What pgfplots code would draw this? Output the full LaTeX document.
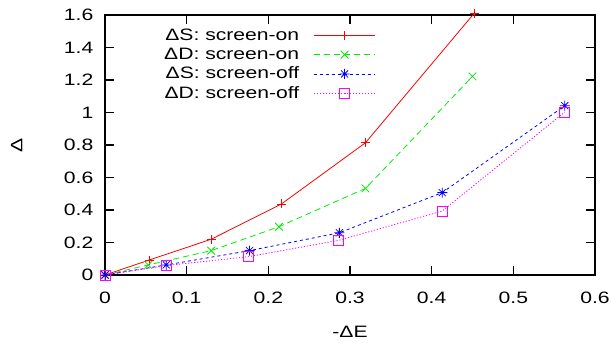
\documentclass[border=0pt]{standalone}
\usepackage{fontspec}
\setmainfont{Liberation Sans}[FakeStretch=1.28]
\usepackage{pgfplots}
\pgfplotsset{compat=1.18}
\pgfdeclareplotmark{gpstar}{%
  \pgfpathmoveto{\pgfqpoint{-\pgfplotmarksize}{0pt}}\pgfpathlineto{\pgfqpoint{\pgfplotmarksize}{0pt}}%
  \pgfpathmoveto{\pgfqpoint{0pt}{-\pgfplotmarksize}}\pgfpathlineto{\pgfqpoint{0pt}{\pgfplotmarksize}}%
  \pgfpathmoveto{\pgfqpoint{-.7071\pgfplotmarksize}{-.7071\pgfplotmarksize}}\pgfpathlineto{\pgfqpoint{.7071\pgfplotmarksize}{.7071\pgfplotmarksize}}%
  \pgfpathmoveto{\pgfqpoint{-.7071\pgfplotmarksize}{.7071\pgfplotmarksize}}\pgfpathlineto{\pgfqpoint{.7071\pgfplotmarksize}{-.7071\pgfplotmarksize}}%
  \pgfusepathqstroke}
\definecolor{gpred}{RGB}{255,0,0}
\definecolor{gpgreen}{RGB}{0,235,0}
\definecolor{gpblue}{RGB}{0,0,255}
\definecolor{gpmag}{RGB}{255,0,255}
\begin{document}
\begin{tikzpicture}
\fontsize{16.5}{19}\selectfont
\begin{axis}[
  scale only axis, width=490pt, height=260pt,
  xmin=0, xmax=0.6, ymin=0, ymax=1.6,
  xtick={0,0.1,0.2,0.3,0.4,0.5,0.6},
  ytick={0,0.2,0.4,0.6,0.8,1,1.2,1.4,1.6},
  xticklabels={0,0.1,0.2,0.3,0.4,0.5,0.6},
  yticklabels={0,0.2,0.4,0.6,0.8,1,1.2,1.4,1.6},
  tick align=inside, major tick length=9pt,
  axis line style={line width=1.5pt},
  every tick/.style={black, line width=1.2pt},
  xticklabel style={yshift=-11pt},
  yticklabel style={xshift=-6pt},
  xlabel={-ΔE}, ylabel={Δ},
  xlabel style={at={(axis description cs:0.5,-0.219)}, anchor=center},
  ylabel style={at={(axis description cs:-0.18,0.5)}, anchor=center},
  clip=false,
  legend plot pos=right,
  legend cell align=right,
  legend image code/.code={\draw[mark repeat=2,mark phase=2] plot coordinates {(0pt,0pt) (31pt,0pt) (61pt,0pt)};},
  legend style={draw=none, fill=none, inner sep=0pt, outer sep=0pt,
    at={(axis description cs:0.551,0.948)}, anchor=north east,
    row sep=5.2pt, column sep=14pt,
    nodes={inner sep=0pt}},
]
\addplot[gpred, line width=0.8pt, mark=+, mark size=4.5pt, mark options={solid}]
  coordinates {(0,0) (0.054,0.092) (0.13,0.22) (0.216,0.437) (0.319,0.814) (0.452,1.61)};
\addlegendentry{ΔS: screen-on}
\addplot[gpgreen, line width=0.8pt, dash pattern=on 6pt off 4pt, mark=x, mark size=5.5pt, mark options={solid}]
  coordinates {(0,0) (0.053,0.062) (0.13,0.15) (0.213,0.297) (0.319,0.533) (0.45,1.222)};
\addlegendentry{ΔD: screen-on}
\addplot[gpblue, line width=0.8pt, dash pattern=on 3pt off 3pt, mark=gpstar, mark size=5pt, mark options={solid}]
  coordinates {(0,0) (0.075,0.062) (0.177,0.15) (0.287,0.26) (0.413,0.507) (0.563,1.042)};
\addlegendentry{ΔS: screen-off}
\addplot[gpmag, line width=0.8pt, dash pattern=on 1.2pt off 1.8pt, mark=square, mark size=5pt, mark options={solid}]
  coordinates {(0,0) (0.075,0.058) (0.176,0.113) (0.286,0.213) (0.413,0.394) (0.563,1.003)};
\addlegendentry{ΔD: screen-off}
\end{axis}
\pgfresetboundingbox
\path (-105pt,-71pt) rectangle (506pt,275pt);
\end{tikzpicture}
\end{document}
